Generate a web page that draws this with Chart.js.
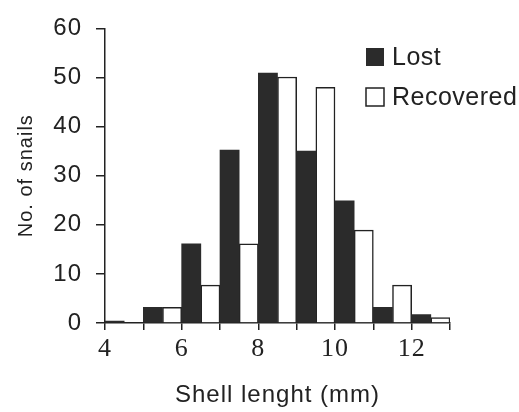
<!DOCTYPE html>
<html>
<head>
<meta charset="utf-8">
<script src="https://cdn.jsdelivr.net/npm/chart.js@4/dist/chart.umd.min.js"></script>
<style>
  html, body { margin: 0; padding: 0; background: #fff; }
  #wrap { width: 519px; height: 412px; }
</style>
</head>
<body>
<div id="wrap"><canvas id="chart" width="519" height="412"></canvas></div>
<script>
// bin centres (mm), each bin is 1 mm wide
const binCentres = [4.5, 5.5, 6.5, 7.5, 8.5, 9.5, 10.5, 11.5, 12.5];
const lost = [0.4, 3.2, 16.1, 35.2, 50.9, 35, 24.9, 3.2, 1.7];
const recovered = [0, 3.2, 7.7, 16.1, 50.1, 48, 18.9, 7.7, 1.1];
const seriesNames = ['Lost', 'Recovered'];
const xLabels = [4, 6, 8, 10, 12];

const ink = '#222';
const sans = '"Liberation Sans", Arial, sans-serif';
const serif = '"Liberation Serif", "Times New Roman", serif';

const toPoints = vals => vals.map((v, i) => ({ x: binCentres[i], y: v }));

// the scanned lettering is a bit loose, so space it out a little
const spacing = {
  id: 'spacing',
  beforeDraw(chart) {
    chart.ctx.letterSpacing = '1px';
  }
};

// legend sits inside the plot, top right
const innerLegend = {
  id: 'innerLegend',
  afterDraw(chart) {
    const ctx = chart.ctx;
    ctx.save();
    ctx.font = '25px ' + sans;
    ctx.letterSpacing = '0.5px';
    ctx.textBaseline = 'middle';
    chart.data.datasets.forEach((ds, i) => {
      const y = 57 + i * 40;
      ctx.fillStyle = ds.backgroundColor;
      ctx.fillRect(366, y - 9, 18, 18);
      if (ds.borderWidth) {
        ctx.strokeStyle = ink;
        ctx.lineWidth = 1.5;
        ctx.strokeRect(366, y - 9, 18, 18);
      }
      ctx.fillStyle = ink;
      ctx.fillText(ds.label, 392, y + 1);
    });
    ctx.restore();
  }
};

new Chart(document.getElementById('chart'), {
  type: 'bar',
  data: {
    datasets: [
      {
        label: seriesNames[0],
        data: toPoints(lost),
        backgroundColor: '#2b2b2b',
        borderWidth: 0
      },
      {
        label: seriesNames[1],
        data: toPoints(recovered),
        backgroundColor: '#ffffff',
        borderColor: ink,
        borderWidth: 1.5
      }
    ]
  },
  options: {
    responsive: false,
    animation: false,
    layout: { padding: { top: 21, right: 69, bottom: 0, left: 0 } },
    datasets: { bar: { categoryPercentage: 1, barPercentage: 1 } },
    plugins: {
      legend: { display: false },
      tooltip: { enabled: false }
    },
    scales: {
      x: {
        type: 'linear',
        min: 4,
        max: 13,
        offset: false,
        afterFit: s => { s.height = 89; },
        grid: { offset: false, drawOnChartArea: false, tickLength: 7, color: ink, lineWidth: 1.5 },
        border: { color: ink, width: 1.5 },
        ticks: {
          stepSize: 1,
          autoSkip: false,
          maxRotation: 0,
          padding: 4,
          color: ink,
          font: { family: serif, size: 26 },
          callback: v => xLabels.includes(v) ? v : ''
        },
        title: {
          display: true,
          text: 'Shell lenght (mm)',
          color: ink,
          font: { family: sans, size: 24 },
          padding: { top: 0, bottom: 2 }
        }
      },
      y: {
        min: 0,
        max: 60,
        afterFit: s => { s.width = 105; },
        grid: { drawOnChartArea: false, tickLength: 9, color: ink, lineWidth: 1.5 },
        border: { color: ink, width: 1.5 },
        ticks: {
          stepSize: 10,
          padding: 14,
          color: ink,
          font: { family: sans, size: 24 }
        },
        title: {
          display: true,
          text: 'No. of snails',
          color: ink,
          font: { family: sans, size: 20 },
          padding: { top: 14, bottom: 0 }
        }
      }
    }
  },
  plugins: [spacing, innerLegend]
});
</script>
</body>
</html>
